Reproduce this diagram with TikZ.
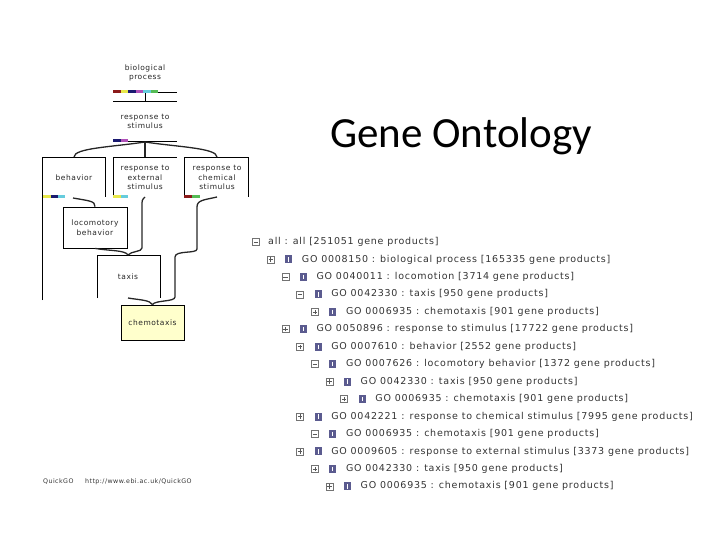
\documentclass[tikz,border=0pt]{standalone}
\usepackage{fontspec}
\setmainfont{DejaVu Sans}
\newfontfamily\treefont[LetterSpace=8]{DejaVu Sans}
\newfontfamily\smallfont[LetterSpace=7]{DejaVu Sans}
\newfontfamily\titlefont{Carlito}
\definecolor{goRed}{HTML}{8B1A1A}
\definecolor{goYellow}{HTML}{E8E84A}
\definecolor{goNavy}{HTML}{1A1A70}
\definecolor{goPurple}{HTML}{B050B8}
\definecolor{goCyan}{HTML}{66CCDD}
\definecolor{goGreen}{HTML}{55BB55}
\definecolor{goBlue}{HTML}{5B5B8F}
\definecolor{goPale}{HTML}{FFFFCC}
\begin{document}
\begin{tikzpicture}[x=1pt,y=-1pt,
  treetext/.style={anchor=west, inner sep=0pt, font=\treefont\fontsize{9.5}{11}\selectfont, text=black!80},
  expbox/.style={draw=black!55, fill=white, line width=0.6pt, minimum size=7pt, inner sep=0pt},
  signline/.style={draw=black!65, line width=0.6pt},
  bluesq/.style={fill=goBlue, minimum width=7pt, minimum height=8pt, inner sep=0pt},
  glabel/.style={inner sep=0pt, align=center, font=\smallfont\fontsize{7.5}{9.5}\selectfont, text=black!85},
  gline/.style={draw=black, line width=0.8pt},
  gedge/.style={draw=black!85, line width=1.3pt},
  cbar/.style={line width=3pt},
  gbox/.style={draw=black, line width=0.8pt, inner sep=0pt, align=center, font=\smallfont\fontsize{7.5}{9.5}\selectfont, text=black!85}
]
\useasboundingbox (0,0) rectangle (720,540);

% ---------- title ----------
\node[anchor=base west, inner sep=0pt, font=\titlefont\fontsize{43}{50}\selectfont] (title) at (330,148) {Gene Ontology};

% ---------- left: QuickGO graph ----------
\node[glabel] (bp) at (145,73) {biological\\process};
\draw[gline] (113,92) -- (177,92);
\draw[gline] (113,101) -- (177,101);
\draw[gline] (145,92) -- (145,101);
\foreach \c [count=\k from 0] in {goRed,goYellow,goNavy,goPurple,goCyan,goGreen}
  \draw[cbar, \c] (113+7.5*\k,92) -- (120.5+7.5*\k,92);

\node[glabel] (rs) at (145,121.5) {response to\\stimulus};
\draw[gline] (113,141) -- (177,141);
\draw[cbar, goNavy] (113,141) -- (120.5,141);
\draw[cbar, goPurple] (120.5,141) -- (128,141);

% children boxes (open outlines)
\node[glabel] (beh) at (74,178) {behavior};
\draw[gline] (42,300) -- (42,157) -- (105,157) -- (105,197);
\draw[cbar, goYellow] (43,197) -- (50.5,197);
\draw[cbar, goNavy] (50.5,197) -- (58,197);
\draw[cbar, goCyan] (58,197) -- (65,197);

\node[glabel] (rext) at (145,177.5) {response to\\external\\stimulus};
\draw[gline] (113,197) -- (113,157) -- (177,157);
\draw[cbar, goYellow] (113,197) -- (120.5,197);
\draw[cbar, goCyan] (120.5,197) -- (128,197);

\node[glabel] (rchem) at (217,177.5) {response to\\chemical\\stimulus};
\draw[gline] (184,197) -- (184,157) -- (248,157) -- (248,197);
\draw[cbar, goRed] (184,197) -- (192,197);
\draw[cbar, goGreen] (192,197) -- (200,197);

\node[gbox, minimum width=64pt, minimum height=41pt] (loco) at (95,227.5) {locomotory\\behavior};

\node[glabel] (tax) at (128,277) {taxis};
\draw[gline] (97,298) -- (97,255) -- (160,255) -- (160,298);

\node[gbox, fill=goPale, minimum width=63pt, minimum height=35pt] (chemo) at (152.5,322.5) {chemotaxis};

% graph edges
\coordinate (rsb) at (145,142);
\coordinate (behT) at (74,157);
\coordinate (rextT) at (145,157);
\coordinate (rchemT) at (217,157);
\draw[gedge] (rsb) .. controls (112,147) and (74,148) .. (behT);
\draw[gedge] (rsb) -- (rextT);
\draw[gedge] (rsb) .. controls (178,147) and (217,148) .. (rchemT);

\coordinate (behB) at (73,198);
\coordinate (rextB) at (145,197);
\coordinate (rchemB) at (217,197);
\coordinate (taxT) at (128,255);
\coordinate (taxB) at (128,298);
\draw[gedge] (behB) .. controls (90,201) and (95,201) .. (loco.north);
\draw[gedge] (loco.south) .. controls (110,251) and (125,250) .. (taxT);
\draw[gedge] (rextB) .. controls (142,200) .. (142,206) -- (142,248) .. controls (142,252) and (131,251) .. (taxT);
\draw[gedge] (rchemB) .. controls (204,200) and (197,200) .. (197,207) -- (197,249) .. controls (197,254) and (175,250) .. (175,257) -- (175,297) .. controls (175,302) and (155,300) .. (chemo.north);
\draw[gedge] (taxB) .. controls (140,300) and (150,300) .. (chemo.north);

% footer
\node[anchor=west, inner sep=0pt, font=\smallfont\fontsize{6.3}{7}\selectfont, text=black!80] (qg) at (43,482) {QuickGO};
\node[anchor=west, inner sep=0pt, font=\smallfont\fontsize{6.3}{7}\selectfont, text=black!80] (url) at (85,482) {http://www.ebi.ac.uk/QuickGO};

% ---------- right: tree listing ----------
\node[expbox] (e1) at (256,242) {};
\draw[signline] ([xshift=1.6pt]e1.west) -- ([xshift=-1.6pt]e1.east);
\node[treetext] (t1) at (268,242) {all : all [251051 gene products]};

\foreach \i/\l/\s/\t in {
  2/1/1/{GO 0008150 : biological process [165335 gene products]},
  3/2/0/{GO 0040011 : locomotion [3714 gene products]},
  4/3/0/{GO 0042330 : taxis [950 gene products]},
  5/4/1/{GO 0006935 : chemotaxis [901 gene products]},
  6/2/1/{GO 0050896 : response to stimulus [17722 gene products]},
  7/3/1/{GO 0007610 : behavior [2552 gene products]},
  8/4/0/{GO 0007626 : locomotory behavior [1372 gene products]},
  9/5/1/{GO 0042330 : taxis [950 gene products]},
  10/6/1/{GO 0006935 : chemotaxis [901 gene products]},
  11/3/1/{GO 0042221 : response to chemical stimulus [7995 gene products]},
  12/4/0/{GO 0006935 : chemotaxis [901 gene products]},
  13/3/1/{GO 0009605 : response to external stimulus [3373 gene products]},
  14/4/1/{GO 0042330 : taxis [950 gene products]},
  15/5/1/{GO 0006935 : chemotaxis [901 gene products]}}
{
  \pgfmathsetmacro{\xe}{256+14.7*\l}
  \pgfmathsetmacro{\yr}{242+17.45*(\i-1)}
  \node[expbox] (e\i) at (\xe,\yr) {};
  \draw[signline] ([xshift=1.6pt]e\i.west) -- ([xshift=-1.6pt]e\i.east);
  \ifnum\s=1
    \draw[signline] ([yshift=1.6pt]e\i.south) -- ([yshift=-1.6pt]e\i.north);
  \fi
  \node[bluesq] (b\i) at (\xe+18,\yr) {};
  \draw[white, line width=0.7pt] ([yshift=-2pt]b\i.north) -- ([yshift=2pt]b\i.south);
  \node[treetext] (t\i) at (\xe+31,\yr) {\t};
}
\end{tikzpicture}
\end{document}
